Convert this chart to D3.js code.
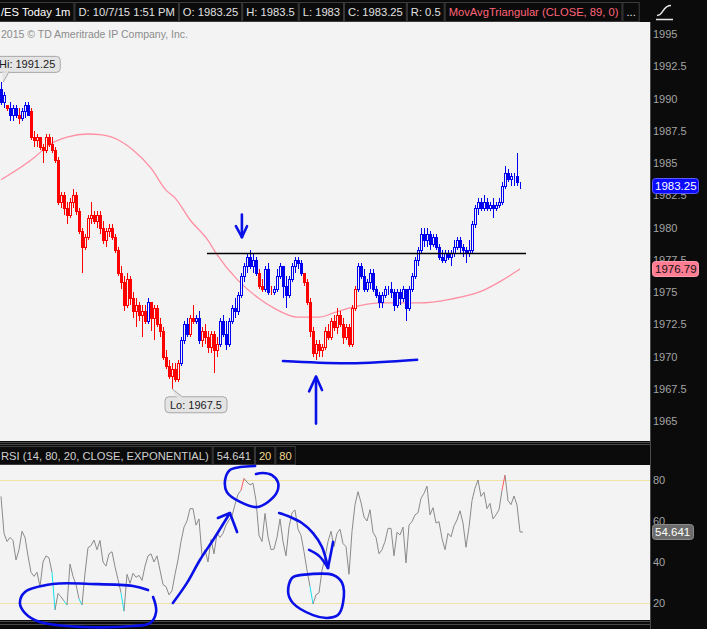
<!DOCTYPE html>
<html><head><meta charset="utf-8">
<script src="https://cdn.jsdelivr.net/npm/d3@7"></script>
<style>html,body{margin:0;padding:0;background:#0b0b0b;overflow:hidden}</style>
</head><body><svg id="c" width="707" height="629"></svg>
<script>
// ---- data (1-minute /ES bars, index 0..173) ----
const open = [1990.75,1989.75,1989.5,1989.25,1988.75,1989.25,1988.75,1988.5,1989.0,1989.5,
1989.0,1987.0,1986.75,1987.0,1986.25,1986.0,1987.0,1986.5,1986.0,1985.25,
1982.0,1982.5,1981.5,1981.0,1982.0,1982.5,1981.25,1979.75,1978.5,1979.25,
1980.75,1981.0,1980.5,1981.0,1980.0,1979.0,1979.75,1980.0,1979.25,1978.25,
1976.5,1975.75,1974.0,1976.0,1974.5,1973.5,1974.0,1973.25,1973.5,1972.75,
1974.25,1973.0,1973.75,1972.5,1972.0,1970.0,1969.25,1968.5,1969.0,1968.25,
1969.5,1971.25,1972.5,1971.75,1973.0,1972.75,1973.0,1971.25,1972.0,1971.5,
1970.75,1971.75,1970.5,1971.0,1972.75,1971.75,1971.0,1972.75,1973.75,1973.5,
1974.75,1976.25,1977.0,1977.75,1977.0,1977.5,1976.5,1975.5,1975.25,1976.75,
1975.0,1975.0,1975.25,1976.25,1977.0,1975.5,1974.75,1976.0,1977.0,1977.5,
1977.25,1976.5,1975.75,1974.25,1972.0,1970.25,1971.0,1970.5,1970.75,1972.0,
1971.5,1972.75,1972.25,1973.25,1972.5,1971.5,1972.25,1971.0,1973.75,1975.25,
1977.0,1976.25,1975.25,1975.75,1976.5,1975.25,1974.75,1974.25,1974.75,1975.25,
1975.25,1975.0,1974.0,1975.0,1974.5,1975.25,1973.75,1975.25,1976.25,1977.5,
1978.25,1979.5,1979.0,1979.5,1978.75,1979.25,1978.5,1977.75,1977.5,1978.0,
1977.75,1978.0,1978.5,1979.0,1978.5,1978.25,1978.0,1978.25,1980.25,1981.5,
1982.0,1981.5,1982.0,1981.5,1981.75,1981.5,1981.75,1982.0,1983.25,1984.25,
1983.75,1984.0,1984.0,1983.25];
const high = [1991.25,1990.5,1989.5,1989.75,1989.5,1989.5,1989.25,1989.25,1989.75,1989.75,
1989.25,1987.5,1987.25,1987.0,1986.5,1987.25,1987.25,1987.0,1986.25,1985.5,
1982.75,1982.75,1982.0,1982.25,1983.0,1982.75,1981.5,1980.0,1979.5,1981.0,
1982.0,1981.25,1981.25,1981.25,1980.5,1980.0,1980.25,1980.25,1979.5,1978.5,
1977.0,1976.25,1976.5,1976.25,1975.0,1974.5,1974.25,1974.0,1974.0,1974.5,
1974.25,1974.0,1974.0,1973.0,1972.25,1970.5,1969.75,1969.5,1969.5,1969.75,
1971.5,1972.75,1973.0,1973.25,1974.0,1973.25,1973.5,1972.25,1972.5,1972.0,
1972.0,1972.0,1971.5,1973.0,1973.25,1972.75,1973.0,1974.0,1974.5,1975.0,
1976.5,1977.25,1978.0,1978.25,1978.0,1977.75,1976.75,1976.0,1977.0,1977.25,
1975.5,1975.5,1976.75,1977.25,1977.0,1976.25,1976.25,1977.25,1977.75,1977.75,
1977.5,1976.5,1976.0,1974.5,1972.25,1971.25,1971.25,1971.0,1972.25,1972.5,
1973.0,1973.25,1973.75,1973.5,1973.0,1972.5,1972.5,1974.0,1975.5,1977.25,
1977.25,1976.75,1976.0,1976.75,1976.75,1975.5,1975.0,1975.0,1975.5,1975.5,
1975.75,1975.25,1975.25,1975.25,1975.5,1975.25,1975.5,1976.5,1977.75,1978.5,
1980.0,1980.0,1980.0,1979.75,1979.5,1979.5,1978.75,1978.25,1978.25,1978.25,
1978.25,1979.0,1979.25,1979.25,1978.75,1978.5,1979.0,1980.5,1981.75,1982.25,
1982.25,1982.5,1982.25,1982.0,1982.25,1982.0,1982.25,1983.5,1984.75,1984.5,
1984.25,1984.25,1985.75,1983.5];
const low = [1989.5,1989.25,1989.0,1988.25,1988.25,1988.5,1988.0,1988.25,1988.5,1988.75,
1986.75,1986.25,1986.25,1986.0,1985.0,1985.75,1986.25,1985.75,1985.0,1981.75,
1981.5,1981.0,1980.25,1980.75,1981.5,1981.0,1979.5,1976.5,1978.25,1979.0,
1980.25,1980.25,1980.0,1979.5,1978.75,1978.5,1979.25,1979.0,1978.0,1976.25,
1975.25,1973.5,1973.75,1974.0,1973.0,1972.25,1972.75,1971.5,1972.5,1972.5,
1972.0,1971.25,1972.25,1971.5,1969.75,1969.0,1968.25,1967.5,1968.0,1968.0,
1969.25,1971.0,1971.5,1971.5,1972.5,1972.5,1971.0,1970.75,1971.0,1970.25,
1970.25,1968.75,1970.0,1970.75,1971.5,1970.5,1970.75,1972.5,1973.0,1973.25,
1974.5,1975.75,1976.5,1976.75,1976.5,1976.25,1975.25,1975.0,1975.0,1974.75,
1974.75,1974.75,1975.0,1976.0,1974.5,1973.75,1974.5,1975.75,1976.5,1976.75,
1976.25,1975.5,1974.0,1971.5,1970.0,1969.75,1970.0,1970.0,1970.5,1971.25,
1971.25,1972.0,1971.75,1972.25,1971.0,1971.25,1970.75,1970.75,1973.5,1975.0,
1976.0,1975.0,1975.0,1975.25,1975.0,1974.5,1973.75,1973.75,1974.5,1974.75,
1974.5,1973.5,1973.75,1974.0,1974.25,1972.75,1973.5,1975.0,1976.0,1977.0,
1978.0,1978.5,1978.5,1978.25,1978.5,1978.25,1977.5,1977.25,1977.25,1977.5,
1977.0,1977.75,1978.25,1978.0,1977.75,1977.25,1977.75,1978.0,1980.0,1981.0,
1981.25,1981.25,1981.25,1981.25,1980.75,1981.25,1981.5,1981.75,1983.0,1983.5,
1983.25,1983.25,1983.25,1983.0];
const close = [1989.75,1990.25,1989.25,1988.75,1989.25,1988.75,1988.5,1989.0,1989.5,1988.75,
1987.0,1986.75,1987.0,1986.25,1986.0,1987.0,1986.5,1986.0,1985.25,1982.0,
1982.5,1981.5,1981.0,1982.0,1982.5,1981.25,1979.75,1978.5,1979.25,1980.75,
1981.0,1980.5,1981.0,1980.0,1979.0,1979.75,1980.0,1979.25,1978.25,1976.5,
1975.75,1974.0,1976.0,1974.5,1973.5,1974.0,1973.25,1973.5,1972.75,1974.25,
1973.0,1973.75,1972.5,1972.0,1970.0,1969.25,1968.5,1969.0,1968.25,1969.5,
1971.25,1972.5,1971.75,1973.0,1972.75,1973.0,1971.25,1972.0,1971.5,1970.75,
1971.75,1970.5,1971.0,1972.75,1971.75,1971.0,1972.75,1973.75,1973.5,1974.75,
1976.25,1977.0,1977.75,1977.0,1977.5,1976.5,1975.5,1975.25,1976.75,1975.0,
1975.0,1975.25,1976.25,1977.0,1975.5,1974.75,1976.0,1977.0,1977.5,1977.25,
1976.5,1975.75,1974.25,1972.0,1970.25,1971.0,1970.5,1970.75,1972.0,1971.5,
1972.75,1972.25,1973.25,1972.5,1971.5,1972.25,1971.0,1973.75,1975.25,1977.0,
1976.25,1975.25,1975.75,1976.5,1975.25,1974.75,1974.25,1974.75,1975.25,1975.25,
1975.0,1974.0,1975.0,1974.5,1975.25,1973.75,1975.25,1976.25,1977.5,1978.25,
1979.5,1979.0,1979.5,1978.75,1979.25,1978.5,1977.75,1977.5,1978.0,1977.75,
1978.0,1978.5,1979.0,1978.5,1978.25,1978.0,1978.25,1980.25,1981.5,1982.0,
1981.5,1982.0,1981.5,1981.75,1981.5,1981.75,1982.0,1983.25,1984.25,1983.75,
1984.0,1984.0,1983.5,1983.25];
// bar colouring state from the platform: 1 = blue, 0 = red
const trend = [1,1,0,1,1,1,0,1,1,1,
0,0,0,0,0,0,0,0,0,0, 0,0,0,0,0,0,0,0,0,0, 0,0,0,0,0,0,0,0,0,0, 0,0,0,0,0,0,0,0,0,
1,0,0,0,0,0,0,0,0,0,0,
1,1,1,0,0,1,1,0,0,0,0,0,0,
1,1,1,1,1,1,1,1,1,1,1,1,1,
0,0,1,1,0,
1,1,1,1,1,1,1,1,1,1,
0,0,0,0,0,0,0,0,0,0,0,0,0,0,0,0,0,0,
1,1,1,1,1,1,1,1,1,1, 1,1,1,1,1,1,1,1,1,1, 1,1,1,1,1,1,1,1,1,1,
1,1,1,1,1,1,1,1,1,1, 1,1,1,1,1,1,1,1,1,1, 1,1,1,1,1];
const rsi = [72,54,50,52,50.5,41,46,55,52,43,
35,33,35,28,40,43,42,35,16.6,24.7,
23,21,19,39,33,29,22,19,34.5,47,
48,50.7,46,50.5,40,38,44,45,37.7,31.5,
25,16,34,29.6,34.5,32.5,33.5,31,38,43,
44,40,43,36,29,28,24,26,34,41,
50,57,60,66,66,58,61,43,46,40,
51,44,54,52,54,58,60.5,62.5,68,73,
75,80.8,79,77.6,78.4,70,53,50,63.7,52.3,
46,46.3,52,61,50,43,57,64,65.4,56,
53,45,36,28,19.5,24,25,36,42,50,
55,47.5,54,56,49,47.5,34,55,68,74.3,
69,62,60,65.5,54.5,52,44,46,50,56.4,
56.4,43,54.5,53.2,57,39.5,58,59.7,63,64,
71,73.5,77,63,66.5,59,59.7,51.5,46,54,
52.3,57.6,60.5,65,59,47.2,57,70,76,80,
72,74,66,68.6,61,63,65.5,75,82.4,70,
68,72.2,67.8,54.641];
// MovAvgTriangular(CLOSE, 89) read at selected bars
const maIndex = [0,11,16,22,29,33,39,44,50,55,58,63,69,72,79,86,91,99,106,111,116,127,139,150,161,167,173];
const maValue = [1983.7,1985.4,1986.4,1987.0,1987.25,1987.2,1986.8,1986.0,1984.6,1982.9,1982.3,1980.6,1979.0,1977.9,1975.9,1974.5,1973.75,1973.05,1973.05,1973.4,1973.75,1974.15,1974.15,1974.45,1975.15,1975.9,1976.79];
const priceTicks = [1995,1992.5,1990,1987.5,1985,1982.5,1980,1977.5,1975,1972.5,1970,1967.5,1965];
const rsiTicks = [80,60,40,20];
const rsiLevels = [80,20];
const resistance = {from:68.67, to:175, price:1978};
// hand-drawn annotations in data units [bar index, value]
const annDown = [[[80.3,1981.0],[80.3,1979.25]],[[78.3,1980.1],[80.3,1979.25],[82,1980.1]]];
const annUp = [[[105,1964.8],[105,1968.4]],[[102.7,1967.3],[105,1968.45],[107,1967.4]]];
const annBase = [[94,1969.65],[116.3,1969.48],[138.7,1969.75]];
const rsiLoop1 = [[49,26.3],[44,28.3],[29.7,29.3],[17.3,29.3],[8,25.4],[6.3,20],[8,15.1],[13,10.7],[27.3,8.3],[44,8.8],[49.7,10.2],[51.7,15.6],[50.7,22.9]];
const rsiArrow1 = [[57.3,20],[62,29.8],[66.3,41],[70.7,50.7],[76.3,63.9]];
const rsiArrow1Head = [[72.3,61.5],[76.3,63.9],[78.7,54.6]];
const rsiLoop2 = [[84.7,86.8],[79.7,86.3],[76.3,84.9],[74.7,80],[75.3,74.1],[79.7,69.3],[85.3,66.8],[89,69.3],[92,74.1],[92.3,79],[90.3,82.4],[87.3,83.4],[85,82.9]];
const rsiArrow2 = [[92.7,63.9],[96.3,62],[100.3,59],[104,54.1],[107,47.3],[109,37.1]];
const rsiArrow2HeadA = [[102.7,45.9],[106,43],[109,37.1]];
const rsiArrow2HeadB = [[110.7,49.8],[109,37.1]];
const rsiLoop3 = [[100.3,33.7],[110.7,33.7],[113.7,29.8],[114,20],[112.3,14.1],[108.7,12.7],[104,14.1],[97.3,20],[95.7,25.4],[97,32.2],[100.3,33.7]];

// ---- drawing ----
const FONT = "'Liberation Sans', Arial, sans-serif";
const BG = '#f3f3f3', BLUE = '#0000f0', RED = '#ff0000', INK = '#0a10e8';
const svg = d3.select('#c').attr('font-family', FONT);
const PW = 650;
const x = d3.scaleLinear().domain([0, close.length - 1]).range([1, 520]);
const y = d3.scaleLinear().domain([1965, 1995]).range([421, 34]);
const yr = d3.scaleLinear().domain([20, 80]).range([603, 480]);

svg.append('rect').attr('width', 707).attr('height', 629).attr('fill', '#0b0b0b');
svg.append('rect').attr('x', 0).attr('y', 22).attr('width', PW).attr('height', 419).attr('fill', BG);
svg.append('rect').attr('x', 0).attr('y', 465).attr('width', PW).attr('height', 155).attr('fill', BG);
const defs = svg.append('defs');
defs.append('clipPath').attr('id', 'cm').append('rect').attr('x', 0).attr('y', 22).attr('width', PW).attr('height', 419);
defs.append('clipPath').attr('id', 'cr').append('rect').attr('x', 0).attr('y', 465).attr('width', PW).attr('height', 155);

// separators
[[0, 442.5, PW, 442.5], [0, 444.5, PW, 444.5], [0, 621.5, PW, 621.5], [0, 624.5, PW, 624.5], [650.5, 22, 650.5, 629]].forEach(l =>
  svg.append('line').attr('x1', l[0]).attr('y1', l[1]).attr('x2', l[2]).attr('y2', l[3]).attr('stroke', '#4a4a4a'));

// header
const last = close.length - 1;
const hdr = [
  {t: '/ES Today 1m', c: '#ffffff'},
  {t: 'D: 10/7/15 1:51 PM', c: '#e0e0e0'},
  {t: 'O: ' + open[last], c: '#e0e0e0'},
  {t: 'H: ' + high[last], c: '#e0e0e0'},
  {t: 'L: ' + low[last], c: '#e0e0e0'},
  {t: 'C: ' + close[last], c: '#e0e0e0'},
  {t: 'R: ' + (high[last] - low[last]), c: '#e0e0e0'},
  {t: 'MovAvgTriangular (CLOSE, 89, 0)', c: '#ff6478'},
  {t: '...', c: '#e0e0e0'}
];
function cells(list, startX, top, h, base) {
  let hx = startX;
  list.forEach(d => {
    const t = svg.append('text').attr('x', hx + 4).attr('y', base).attr('font-size', 11.2).attr('fill', d.c).text(d.t);
    const w = t.node().getComputedTextLength();
    svg.append('rect').attr('x', hx + 0.5).attr('y', top + 0.5).attr('width', w + 7).attr('height', h)
      .attr('fill', 'none').attr('stroke', '#3c3c3c');
    hx += w + 8;
  });
}
cells(hdr, -3, 2, 19, 16);
// icon top right
svg.append('path').attr('d', 'M656,19.5H673 M657,15.5 C664,15.5 662,5.5 671,5.5').attr('fill', 'none').attr('stroke', '#e8e8e8').attr('stroke-width', 1.4);
// copyright
svg.append('text').attr('x', 1).attr('y', 38).attr('font-size', 10.5).attr('fill', '#8c8c8c').text('2015 \u00a9 TD Ameritrade IP Company, Inc.');

// main plot
const gm = svg.append('g').attr('clip-path', 'url(#cm)');
const bars = close.map((c, i) => ({i, o: open[i], h: high[i], l: low[i], c, col: trend[i] === 1 ? BLUE : RED}));
// MA
gm.append('path').datum(maIndex.map((d, k) => [d, maValue[k]]))
  .attr('d', d3.line().x(d => x(d[0])).y(d => y(d[1])).curve(d3.curveMonotoneX))
  .attr('fill', 'none').attr('stroke', '#ff8fa3').attr('stroke-width', 1.3);
gm.selectAll('line.w').data(bars).join('line').attr('class', 'w')
  .attr('x1', d => Math.round(x(d.i)) + 0.5).attr('x2', d => Math.round(x(d.i)) + 0.5)
  .attr('y1', d => Math.round(y(d.h))).attr('y2', d => Math.round(y(d.l)))
  .attr('stroke', d => d.col).attr('stroke-width', 1);
gm.selectAll('rect.b').data(bars).join('rect').attr('class', 'b')
  .attr('x', d => Math.round(x(d.i)) - 0.5)
  .attr('y', d => Math.round(y(Math.max(d.o, d.c))) + 0.5)
  .attr('width', 2)
  .attr('height', d => Math.max(0, Math.round(y(Math.min(d.o, d.c))) - Math.round(y(Math.max(d.o, d.c)))))
  .attr('fill', d => d.c < d.o ? d.col : BG)
  .attr('stroke', d => d.col).attr('stroke-width', 1);
// resistance line
gm.append('line').attr('x1', x(resistance.from)).attr('x2', x(resistance.to))
  .attr('y1', Math.round(y(resistance.price)) + 0.5).attr('y2', Math.round(y(resistance.price)) + 0.5)
  .attr('stroke', '#000').attr('stroke-width', 1.6);

// Hi / Lo callouts
function callout(i, v, label, above) {
  const tx = x(i), ty = y(v);
  const g = svg.append('g');
  const t = g.append('text').attr('font-size', 11).attr('fill', '#1a1a1a').text(label);
  const w = t.node().getComputedTextLength();
  const bx = tx - 7, by = above ? ty - 26 : ty + 8, bh = 16;
  g.insert('rect', 'text').attr('x', bx).attr('y', by).attr('width', w + 10).attr('height', bh).attr('rx', 4)
    .attr('fill', '#e4e4e4').attr('stroke', '#a8a8a8');
  const p = above ? `M${tx + 1},${by + bh - 0.5} L${tx + 8},${by + bh - 0.5} L${tx + 2},${ty}` :
                    `M${tx + 4},${by + 0.5} L${tx + 11},${by + 0.5} L${tx},${ty}`;
  g.insert('path', 'text').attr('d', p).attr('fill', '#e4e4e4').attr('stroke', '#a8a8a8');
  g.insert('line', 'text').attr('x1', above ? tx + 1.5 : tx + 4.5).attr('x2', above ? tx + 7.5 : tx + 10.5)
    .attr('y1', above ? by + bh - 0.5 : by + 0.5).attr('y2', above ? by + bh - 0.5 : by + 0.5).attr('stroke', '#e4e4e4').attr('stroke-width', 1.5);
  t.attr('x', bx + 5).attr('y', by + 12);
}
const hiI = d3.maxIndex(high), loI = d3.minIndex(low);
callout(hiI, high[hiI], 'Hi: ' + high[hiI], true);
callout(loI, low[loI], 'Lo: ' + low[loI], false);

// price axis
const ax = svg.append('g').attr('transform', 'translate(650,0)')
  .call(d3.axisRight(y).tickValues(priceTicks).tickSize(0).tickPadding(3).tickFormat(d => String(d)));
ax.select('.domain').remove();
ax.selectAll('text').attr('fill', '#a4a4a4').attr('font-size', 11).attr('font-family', FONT);

function tag(yy, txt, fill, stroke, tc, w) {
  svg.append('rect').attr('x', 652.5).attr('y', Math.round(yy) - 7.5).attr('width', w).attr('height', 15).attr('rx', 3)
    .attr('fill', fill).attr('stroke', stroke);
  svg.append('text').attr('x', 655).attr('y', Math.round(yy) + 4).attr('font-size', 11.5).attr('fill', tc).text(txt);
}
tag(y(close[last]), String(close[last]), '#0a0aff', '#5c5cff', '#ffffff', 46);
tag(y(maValue[maValue.length - 1]), String(maValue[maValue.length - 1]), '#ff7d93', '#ff9aaa', '#111', 46);

// RSI header
cells([
  {t: 'RSI (14, 80, 20, CLOSE, EXPONENTIAL)', c: '#cfcfcf'},
  {t: String(rsi[last]), c: '#cfcfcf'},
  {t: '20', c: '#f2d88c'},
  {t: '80', c: '#f2d88c'}
], -3, 446, 18, 460);

// RSI panel
const gr = svg.append('g').attr('clip-path', 'url(#cr)');
rsiLevels.forEach(v => gr.append('line').attr('x1', 0).attr('x2', PW)
  .attr('y1', Math.round(yr(v)) + 0.5).attr('y2', Math.round(yr(v)) + 0.5).attr('stroke', '#f1e3a6'));
const segs = d3.range(1, rsi.length).map(i => ({a: i - 1, b: i}));
gr.selectAll('line.r').data(segs).join('line').attr('class', 'r')
  .attr('x1', d => x(d.a)).attr('x2', d => x(d.b))
  .attr('y1', d => yr(rsi[d.a])).attr('y2', d => yr(rsi[d.b]))
  .attr('stroke', d => rsi[d.b] > 80 ? '#ff5a5a' : rsi[d.b] < 20 ? '#19e0f0' : '#8a8a8a')
  .attr('stroke-width', 1);
gr.append('line').attr('x1', x(last)).attr('x2', x(last) + 3).attr('y1', yr(rsi[last])).attr('y2', yr(rsi[last])).attr('stroke', '#8a8a8a');
const ar = svg.append('g').attr('transform', 'translate(650,0)')
  .call(d3.axisRight(yr).tickValues(rsiTicks).tickSize(0).tickPadding(3));
ar.select('.domain').remove();
ar.selectAll('text').attr('fill', '#a4a4a4').attr('font-size', 11).attr('font-family', FONT);
tag(yr(rsi[last]), String(rsi[last]), '#6c6c6c', '#8a8a8a', '#ffffff', 41);

// annotations
const ink = (pts, sy, curve) => svg.append('path')
  .attr('d', d3.line().x(d => x(d[0])).y(d => sy(d[1])).curve(curve || d3.curveCatmullRom)(pts))
  .attr('fill', 'none').attr('stroke', INK).attr('stroke-width', 2.6).attr('stroke-linecap', 'round').attr('stroke-linejoin', 'round');
annDown.forEach(p => ink(p, y, d3.curveLinear));
annUp.forEach(p => ink(p, y, d3.curveLinear));
ink(annBase, y);
ink(rsiLoop1, yr);
ink(rsiArrow1, yr);
ink(rsiArrow1Head, yr, d3.curveLinear);
ink(rsiLoop2, yr);
ink(rsiArrow2, yr);
ink(rsiArrow2HeadA, yr);
ink(rsiArrow2HeadB, yr, d3.curveLinear);
ink(rsiLoop3, yr, d3.curveCatmullRomClosed);
</script>
</body></html>
